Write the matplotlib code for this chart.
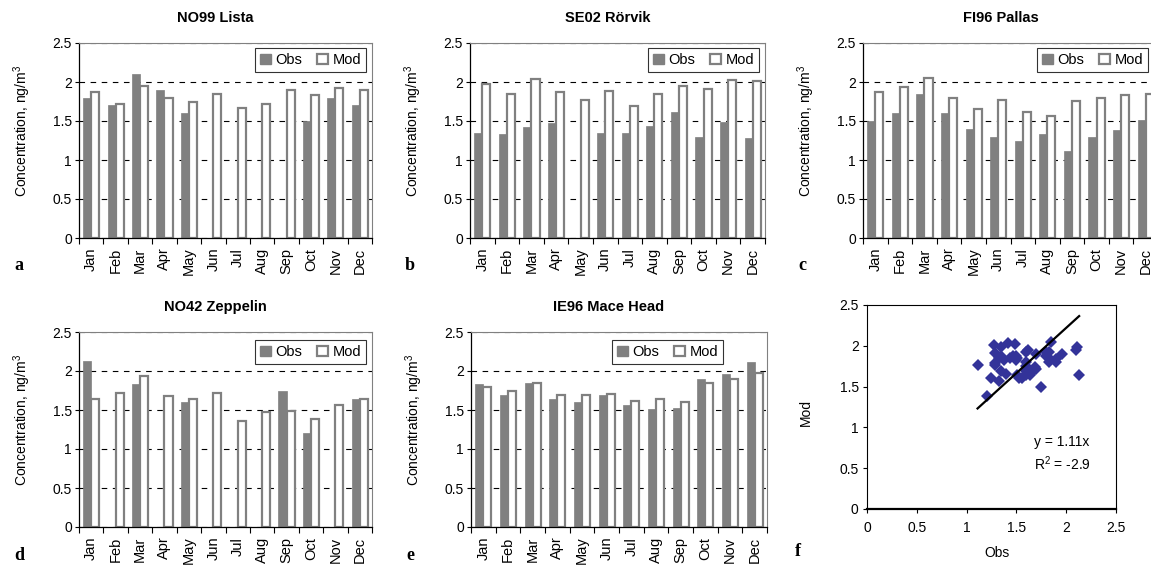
import numpy as np
import matplotlib
matplotlib.use("Agg")
import matplotlib.pyplot as plt
from matplotlib.patches import Patch

plt.rcParams['font.family'] = ['Liberation Sans', 'DejaVu Sans']
plt.rcParams['mathtext.fontset'] = 'custom'
plt.rcParams['mathtext.rm'] = 'Liberation Sans'
plt.rcParams['mathtext.it'] = 'Liberation Sans:italic'

months = ["Jan", "Feb", "Mar", "Apr", "May", "Jun",
          "Jul", "Aug", "Sep", "Oct", "Nov", "Dec"]
yticks = [0, 0.5, 1, 1.5, 2, 2.5]
ytick_labels = ["0", "0.5", "1", "1.5", "2", "2.5"]
nan = np.nan

# monthly means, ng/m3 (nan = no observation)
lista_obs = [1.80, 1.70, 2.10, 1.90, 1.60, nan, nan, nan, nan, 1.50, 1.80, 1.70]
lista_mod = [1.87, 1.72, 1.95, 1.80, 1.75, 1.85, 1.67, 1.72, 1.90, 1.83, 1.92, 1.90]

rorvik_obs = [1.35, 1.33, 1.42, 1.47, nan, 1.35, 1.35, 1.44, 1.62, 1.29, 1.49, 1.28]
rorvik_mod = [1.98, 1.85, 2.04, 1.87, 1.77, 1.88, 1.69, 1.85, 1.95, 1.91, 2.02, 2.01]

pallas_obs = [1.50, 1.60, 1.85, 1.60, 1.40, 1.29, 1.24, 1.33, 1.11, 1.29, 1.38, 1.51]
pallas_mod = [1.87, 1.93, 2.05, 1.80, 1.65, 1.77, 1.61, 1.57, 1.76, 1.79, 1.83, 1.85]

zeppelin_obs = [2.13, nan, 1.83, nan, 1.60, nan, nan, nan, 1.75, 1.20, nan, 1.64]
zeppelin_mod = [1.64, 1.72, 1.93, 1.68, 1.64, 1.72, 1.36, 1.47, 1.49, 1.39, 1.56, 1.64]

macehead_obs = [1.83, 1.69, 1.84, 1.64, 1.60, 1.69, 1.56, 1.51, 1.53, 1.90, 1.96, 2.11]
macehead_mod = [1.80, 1.74, 1.84, 1.69, 1.69, 1.71, 1.61, 1.64, 1.60, 1.84, 1.90, 1.98]

fit_slope = 1.11
fit_r2 = -2.9

W, H = 1151, 566
fig = plt.figure(figsize=(W / 100, H / 100), dpi=100)
GREY = "#808080"


def axes_px(l, t, r, b):
    return fig.add_axes([l / W, 1 - b / H, (r - l) / W, (b - t) / H])


def bar_panel(box, title, obs, mod, letter, leg_dx=6, leg_dy=5):
    l, t, r, b = box
    ax = axes_px(l, t, r, b)
    x = np.arange(len(months))
    w = 0.33
    ax.bar(x - w / 2, obs, w, color=GREY, edgecolor=GREY, linewidth=0.5)
    ax.bar(x + w / 2, mod, w, color="white", edgecolor=GREY, linewidth=1.6)
    ax.set_xlim(-0.5, 11.5)
    ax.set_ylim(0, 2.5)
    ax.set_axisbelow(True)
    ax.yaxis.grid(True, color="black", linestyle=(0, (5, 5)), linewidth=0.8)
    ax.set_yticks(yticks)
    ax.set_yticklabels(ytick_labels)
    ax.set_xticks(x)
    ax.set_xticklabels(months, rotation=90)
    ax.set_xticks(np.arange(-0.5, 12, 1), minor=True)
    ax.tick_params(axis="x", which="major", length=0, pad=7, labelsize=10.5)
    ax.tick_params(axis="x", which="minor", length=4, width=0.8, direction="out")
    ax.tick_params(axis="y", length=3, width=0.8, pad=2, labelsize=10)
    for s in ("top", "right"):
        ax.spines[s].set_color(GREY)
        ax.spines[s].set_linewidth(0.8)
    for s in ("left", "bottom"):
        ax.spines[s].set_linewidth(0.9)
    handles = [Patch(facecolor=GREY, edgecolor=GREY),
               Patch(facecolor="white", edgecolor=GREY, linewidth=1.6)]
    bw, bh = r - l, b - t
    leg = ax.legend(handles, ["Obs", "Mod"], ncol=2, loc="upper right",
                    bbox_to_anchor=(1 - leg_dx / bw, 1 - leg_dy / bh),
                    borderaxespad=0, fontsize=10.5, frameon=True, fancybox=False,
                    handlelength=0.75, handleheight=0.75, handletextpad=0.3,
                    columnspacing=1.0, borderpad=0.35)
    leg.get_frame().set_edgecolor("black")
    leg.get_frame().set_linewidth(0.8)
    cx = (l + r) / 2 - 10
    fig.text(cx / W, 1 - (t - 25) / H, title, ha="center", va="center",
             fontsize=10.5, fontweight="bold")
    fig.text((l - 57) / W, 1 - ((t + b) / 2 - 9) / H, "Concentration, ng/m$^3$",
             rotation=90, ha="center", va="center", fontsize=10)
    fig.text((l - 65) / W, 1 - (b + 28) / H, letter, ha="left", va="center",
             fontsize=13, fontweight="bold", family="Liberation Serif")
    return ax


bar_panel((79, 43, 372, 238), "NO99 Lista", lista_obs, lista_mod, "a")
bar_panel((470, 43, 765, 238), "SE02 Rörvik", rorvik_obs, rorvik_mod, "b")
bar_panel((863, 43, 1158, 238), "FI96 Pallas", pallas_obs, pallas_mod, "c", leg_dx=10)
bar_panel((79, 332, 372, 527), "NO42 Zeppelin", zeppelin_obs, zeppelin_mod, "d", leg_dy=8)
bar_panel((471, 332, 767, 527), "IE96 Mace Head", macehead_obs, macehead_mod, "e",
          leg_dx=44, leg_dy=8)

# scatter of all station-months with observations
all_obs = np.concatenate([lista_obs, rorvik_obs, pallas_obs, zeppelin_obs, macehead_obs])
all_mod = np.concatenate([lista_mod, rorvik_mod, pallas_mod, zeppelin_mod, macehead_mod])
ok = ~np.isnan(all_obs)
all_obs, all_mod = all_obs[ok], all_mod[ok]

l, t, r, b = 867, 305, 1116, 509
ax = axes_px(l, t, r, b)
ax.plot(all_obs, all_mod, "D", color="#333399", markersize=6, markeredgewidth=0)
xf = np.array([all_obs.min(), all_obs.max()])
ax.plot(xf, fit_slope * xf, color="black", linewidth=1.6)
ax.set_xlim(0, 2.5)
ax.set_ylim(0, 2.5)
ax.set_xticks(yticks)
ax.set_xticklabels(ytick_labels)
ax.set_yticks(yticks)
ax.set_yticklabels(ytick_labels)
ax.tick_params(length=3, width=0.8, labelsize=10, pad=3)
ax.tick_params(axis="x", pad=6)
for s in ("top", "right", "left"):
    ax.spines[s].set_linewidth(0.8)
ax.spines["bottom"].set_linewidth(1.6)
ax.text(1.68, 0.82, "y = %.2fx" % fit_slope, fontsize=10, va="center")
ax.text(1.68, 0.56, "R$^2$ = %.1f" % fit_r2, fontsize=10, va="center")
fig.text(997 / W, 1 - 553 / H, "Obs", ha="center", va="center", fontsize=10)
fig.text(806 / W, 1 - 413 / H, "Mod", rotation=90, ha="center", va="center", fontsize=10)
fig.text(798 / W, 1 - 552 / H, "f", ha="center", va="center", fontsize=13,
         fontweight="bold", family="Liberation Serif")

fig.savefig("out.png", dpi=100)
